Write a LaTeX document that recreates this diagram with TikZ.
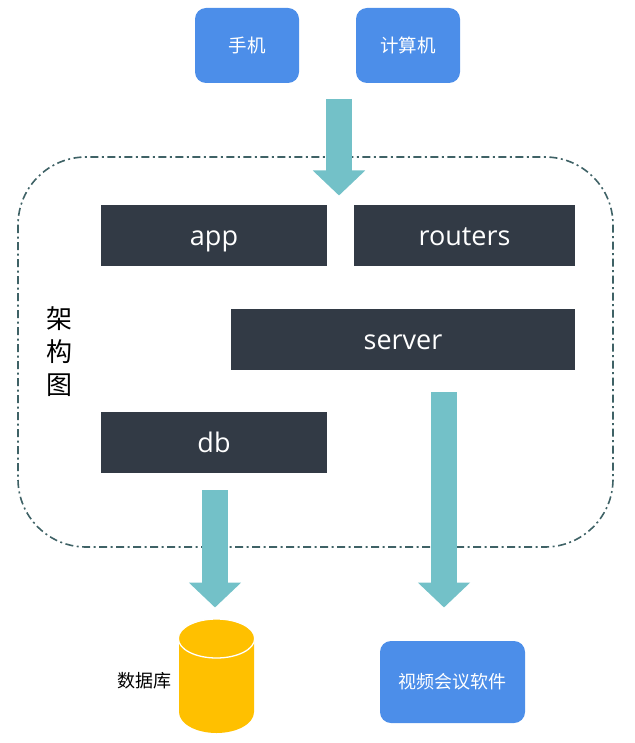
\documentclass[tikz,border=0pt]{standalone}
\usepackage{fontspec}
\setmainfont{Open Sans}
\newfontfamily\cjk{Noto Sans CJK SC}
\usetikzlibrary{arrows.meta,positioning}
\definecolor{slatebox}{HTML}{323A45}
\definecolor{skyblue}{HTML}{4C8EE9}
\definecolor{tealarrow}{HTML}{73C1C8}
\definecolor{frameline}{HTML}{3F6266}
\definecolor{amber}{HTML}{FFC000}
\tikzset{
  x=1pt, y=-1pt,
  layerbox/.style={fill=slatebox, draw=none, inner sep=0pt, text=white, text height=19pt, text depth=0pt, font=\fontsize{27}{32}\selectfont},
  device/.style={fill=skyblue, draw=none, rounded corners=11pt, inner sep=0pt, text=white, font=\cjk\fontsize{18.5}{22}\selectfont},
  flowarrow/.style={draw=tealarrow, line width=26pt, -{Triangle[width=51pt,length=25pt,fill=tealarrow]}},
  frame/.style={draw=frameline, line width=1.6pt, rounded corners=68pt, dash pattern=on 8pt off 3.5pt on 2pt off 3.5pt}
}
\begin{document}
\begin{tikzpicture}
\useasboundingbox (0,0) rectangle (634,743);
% dashed system boundary
\draw[frame] (18,157) rectangle (613,547);
% clients
\node[device, minimum width=104pt, minimum height=75pt] (phone) at (247,45.5) {手机};
\node[device, minimum width=104pt, minimum height=75pt] (pc) at (408,45.5) {计算机};
% service blocks
\node[layerbox, minimum width=226pt, minimum height=61pt] (app) at (214,235.5) {app};
\node[layerbox, minimum width=221pt, minimum height=61pt] (routers) at (464.5,235.5) {routers};
\node[layerbox, minimum width=344pt, minimum height=61pt] (server) at (403,339.5) {server};
\node[layerbox, minimum width=226pt, minimum height=61pt] (db) at (214,442.5) {db};
\node[font=\cjk\fontsize{26}{33}\selectfont, align=center, inner sep=0pt] (title) at (59.5,352) {架\\构\\图};
% external endpoints
\node[device, minimum width=145pt, minimum height=82pt, font=\cjk\fontsize{18}{22}\selectfont] (video) at (452.5,682) {视频会议软件};
% database cylinder
\fill[amber] (179,640) -- (179,712) arc[start angle=180, end angle=360, x radius=37.5pt, y radius=21pt] -- (254,640) -- cycle;
\draw[white, line width=1.3pt, fill=amber] (216.5,638.5) ellipse[x radius=38.2pt, y radius=19.5pt];
\node[font=\cjk\fontsize{18}{22}\selectfont, inner sep=0pt] (dblabel) at (144.5,681) {数据库};
% flow arrows
\coordinate (in1) at (339,99);
\coordinate (in2) at (339,195.5);
\coordinate (out1) at (215,490);
\coordinate (out2) at (215,607.5);
\coordinate (vid1) at (444,392);
\coordinate (vid2) at (444,607.5);
\draw[flowarrow] (in1) -- (in2);
\draw[flowarrow] (out1) -- (out2);
\draw[flowarrow] (vid1) -- (vid2);
\end{tikzpicture}
\end{document}
